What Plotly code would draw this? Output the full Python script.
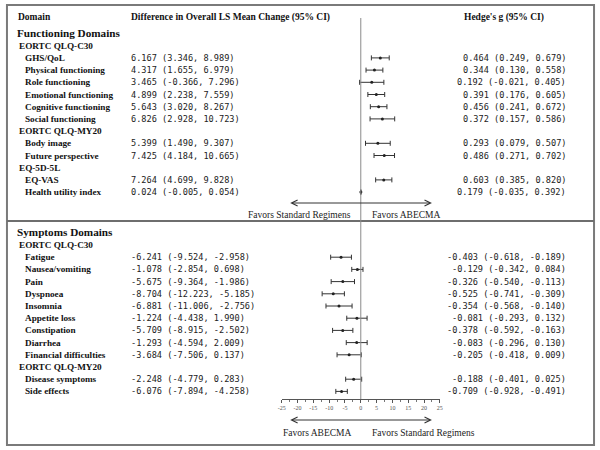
import plotly.graph_objects as go

W, H = 600, 450

# ---------------- data ----------------
func_items = ["GHS/QoL", "Physical functioning", "Role functioning", "Emotional functioning",
              "Cognitive functioning", "Social functioning", "Body image", "Future perspective",
              "EQ-VAS", "Health utility index"]
func_item_group = ["EORTC QLQ-C30"] * 6 + ["EORTC QLQ-MY20"] * 2 + ["EQ-5D-5L"] * 2
func_diff = [6.167, 4.317, 3.465, 4.899, 5.643, 6.826, 5.399, 7.425, 7.264, 0.024]
func_lo = [3.346, 1.655, -0.366, 2.238, 3.020, 2.928, 1.490, 4.184, 4.699, -0.005]
func_hi = [8.989, 6.979, 7.296, 7.559, 8.267, 10.723, 9.307, 10.665, 9.828, 0.054]
func_g = [0.464, 0.344, 0.192, 0.391, 0.456, 0.372, 0.293, 0.486, 0.603, 0.179]
func_g_lo = [0.249, 0.130, -0.021, 0.176, 0.241, 0.157, 0.079, 0.271, 0.385, -0.035]
func_g_hi = [0.679, 0.558, 0.405, 0.605, 0.672, 0.586, 0.507, 0.702, 0.820, 0.392]

sym_items = ["Fatigue", "Nausea/vomiting", "Pain", "Dyspnoea", "Insomnia", "Appetite loss",
             "Constipation", "Diarrhea", "Financial difficulties", "Disease symptoms", "Side effects"]
sym_item_group = ["EORTC QLQ-C30"] * 9 + ["EORTC QLQ-MY20"] * 2
sym_diff = [-6.241, -1.078, -5.675, -8.704, -6.881, -1.224, -5.709, -1.293, -3.684, -2.248, -6.076]
sym_lo = [-9.524, -2.854, -9.364, -12.223, -11.006, -4.438, -8.915, -4.594, -7.506, -4.779, -7.894]
sym_hi = [-2.958, 0.698, -1.986, -5.185, -2.756, 1.990, -2.502, 2.009, 0.137, 0.283, -4.258]
sym_g = [-0.403, -0.129, -0.326, -0.525, -0.354, -0.081, -0.378, -0.083, -0.205, -0.188, -0.709]
sym_g_lo = [-0.618, -0.342, -0.540, -0.741, -0.568, -0.293, -0.592, -0.296, -0.418, -0.401, -0.928]
sym_g_hi = [-0.189, 0.084, -0.113, -0.309, -0.140, 0.132, -0.163, 0.130, 0.009, 0.025, -0.491]

x_ticks = [-25, -20, -15, -10, -5, 0, 5, 10, 15, 20, 25]

col_header = ["Domain", "Difference in Overall LS Mean Change (95% CI)", "Hedge's g (95% CI)"]
panel_titles = ["Functioning Domains", "Symptoms Domains"]
favors_top = ["Favors Standard Regimens", "Favors ABECMA"]
favors_bottom = ["Favors ABECMA", "Favors Standard Regimens"]

# ---------------- layout constants (pixels) ----------------
SERIF = "Liberation Serif, Times New Roman, serif"
MONO = "DejaVu Sans Mono, monospace"
PITCH = 12.2
X_SECTION, X_GROUP, X_ITEM, X_VAL, X_G_RIGHT = 12, 14, 20, 127, 570
AX_LEFT, AX_RIGHT = 281, 441


def px(x):
    return x / W


fig = go.Figure()
annotations = []


def add_text(x, y, text, size=9.2, bold=True, font=SERIF, anchor="left", color="#111"):
    annotations.append(dict(
        x=px(x), y=y, xref="paper", yref="y", text=f"<b>{text}</b>" if bold else text,
        showarrow=False, xanchor=anchor, yanchor="middle", borderpad=0,
        font=dict(family=font, size=size, color=color)))


def fmt(v, lo, hi):
    return f"{v:.3f} ({lo:.3f}, {hi:.3f})"


def build_panel(title, title_y, first_y, items, groups, d, lo, hi, g, glo, ghi):
    add_text(X_SECTION, title_y, title, size=11.2)
    row = 0
    prev = None
    ys = []
    for i, name in enumerate(items):
        if groups[i] != prev:
            add_text(X_GROUP, first_y + PITCH * row, groups[i])
            prev = groups[i]
            row += 1
        y = first_y + PITCH * row
        ys.append(y)
        add_text(X_ITEM, y, name)
        add_text(X_VAL, y, fmt(d[i], lo[i], hi[i]), size=8.6, bold=False, font=MONO, color="#222")
        add_text(X_G_RIGHT, y, fmt(g[i], glo[i], ghi[i]), size=8.6, bold=False, font=MONO,
                 anchor="right", color="#222")
        row += 1
    fig.add_trace(go.Scatter(
        x=d, y=ys, mode="markers",
        marker=dict(size=3, color="#222"),
        error_x=dict(type="data", symmetric=False,
                     array=[h - v for h, v in zip(hi, d)],
                     arrayminus=[v - l for v, l in zip(d, lo)],
                     color="#333", thickness=1, width=2.5),
        showlegend=False, hoverinfo="skip"))
    return ys


# headers
add_text(13, 17, col_header[0], size=9.5)
add_text(X_VAL, 17, col_header[1], size=9.5)
add_text(464, 17, col_header[2], size=9.5)

build_panel(panel_titles[0], 32.7, 45.7, func_items, func_item_group,
            func_diff, func_lo, func_hi, func_g, func_g_lo, func_g_hi)
build_panel(panel_titles[1], 232.3, 245.0, sym_items, sym_item_group,
            sym_diff, sym_lo, sym_hi, sym_g, sym_g_lo, sym_g_hi)

# favors texts
add_text(352, 215, favors_top[0], size=9.5, bold=False, anchor="right", color="#222")
add_text(371, 215, favors_top[1], size=9.5, bold=False, color="#222")
add_text(352, 433, favors_bottom[0], size=9.5, bold=False, anchor="right", color="#222")
add_text(371, 433, favors_bottom[1], size=9.5, bold=False, color="#222")

# double-headed arrows
for ay in (203, 420):
    annotations.append(dict(
        x=22.5, y=ay, xref="x", yref="y", ax=-22.8, ay=ay, axref="x", ayref="y",
        text="", showarrow=True, arrowside="end+start", arrowhead=5, startarrowhead=5,
        arrowsize=1.2, startarrowsize=1.2, arrowwidth=1, arrowcolor="#333"))

shapes = [
    dict(type="rect", xref="paper", yref="paper", x0=px(3), x1=px(597),
         y0=1 - 445 / H, y1=1 - 5 / H, line=dict(color="#7a7a7a", width=2)),
    dict(type="line", xref="paper", yref="y", x0=px(3), x1=px(597), y0=221, y1=221,
         line=dict(color="#6e6e6e", width=2)),
    dict(type="line", xref="x", yref="y", x0=0, x1=0, y0=18, y1=399,
         line=dict(color="#8a8a8a", width=1)),
]

fig.update_layout(
    width=W, height=H, margin=dict(l=0, r=0, t=0, b=0),
    paper_bgcolor="white", plot_bgcolor="white",
    showlegend=False,
    annotations=annotations, shapes=shapes,
    xaxis=dict(domain=[px(AX_LEFT), px(AX_RIGHT)], range=[-25, 25], anchor="free",
               position=(H - 399) / H, tickvals=x_ticks,
               ticktext=[str(t) for t in x_ticks],
               showgrid=False, zeroline=False, showline=True, linecolor="#555", linewidth=1,
               ticks="outside", ticklen=3, tickcolor="#555",
               minor=dict(dtick=2.5, ticks="outside", ticklen=2, tickcolor="#777"),
               tickfont=dict(family=SERIF, size=6, color="#555"), fixedrange=True),
    yaxis=dict(domain=[0, 1], range=[H, 0], visible=False, fixedrange=True),
)

fig.write_html("out.html", config={"displayModeBar": False},
               post_script="document.body.style.margin='0';document.body.style.overflow='hidden';")
